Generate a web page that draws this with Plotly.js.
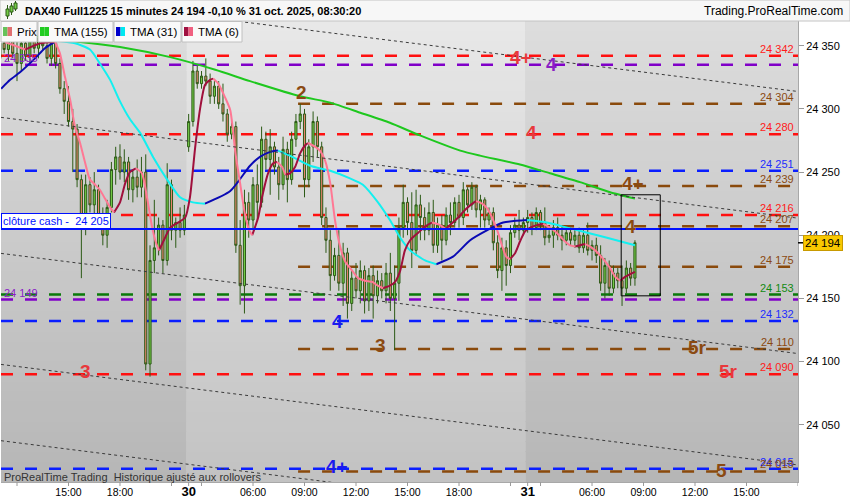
<!DOCTYPE html>
<html>
<head>
<meta charset="utf-8">
<script src="https://cdn.plot.ly/plotly-3.0.1.min.js"></script>
<style>
  html, body { margin: 0; padding: 0; background: #fff; }
  #chart { width: 850px; height: 500px; }
</style>
</head>
<body>
<div id="chart"></div>
<script>
// DAX40 Full1225, 15 min candles. Index 0 = 29 oct 12:00, sessions 02:15 - 22:00
const firstCandle = -4;
const candleOpen = [
  24340, 24352, 24347, 24356, 24344, 24336, 24352, 24342, 24354, 24348,
  24356, 24350, 24340, 24352, 24336, 24316, 24306, 24290, 24284, 24244,
  24206, 24240, 24224, 24236, 24214, 24200, 24222, 24252, 24262, 24250,
  24258, 24236, 24246, 24238, 24250, 24098, 24180, 24190, 24208, 24180,
  24240, 24204, 24210, 24204, 24270, 24290, 24330, 24320, 24326, 24322,
  24310, 24318, 24304, 24296, 24280, 24286, 24192, 24160, 24226, 24212,
  24240, 24226, 24276, 24260, 24270, 24254, 24240, 24268, 24244, 24276,
  24290, 24296, 24244, 24270, 24290, 24270, 24214, 24196, 24168, 24184,
  24162, 24186, 24146, 24166, 24156, 24172, 24148, 24168, 24152, 24164,
  24156, 24170, 24150, 24162, 24206, 24226, 24210, 24188, 24224, 24214,
  24204, 24218, 24192, 24208, 24196, 24216, 24210, 24226, 24214, 24236,
  24224, 24238, 24220, 24228, 24212, 24218, 24194, 24172, 24190, 24176,
  24202, 24208, 24204, 24210, 24214, 24206, 24218, 24210, 24198, 24200,
  24206, 24200, 24196, 24202, 24196, 24200, 24190, 24200, 24188, 24192,
  24184, 24162, 24176, 24158, 24170, 24164, 24158, 24174, 24166
];
const candleHigh = [
  24358, 24362, 24360, 24364, 24354, 24356, 24360, 24358, 24362, 24360,
  24364, 24358, 24356, 24356, 24340, 24322, 24318, 24300, 24288, 24248,
  24248, 24246, 24250, 24240, 24222, 24228, 24258, 24270, 24272, 24268,
  24262, 24252, 24260, 24262, 24264, 24192, 24228, 24214, 24212, 24257,
  24244, 24214, 24222, 24224, 24296, 24338, 24334, 24330, 24340, 24328,
  24322, 24322, 24320, 24300, 24292, 24290, 24212, 24236, 24234, 24246,
  24256, 24286, 24282, 24284, 24274, 24262, 24278, 24274, 24282, 24296,
  24304, 24300, 24276, 24298, 24294, 24274, 24222, 24204, 24190, 24204,
  24194, 24190, 24172, 24178, 24180, 24176, 24174, 24176, 24172, 24170,
  24178, 24186, 24176, 24214, 24240, 24230, 24234, 24236, 24232, 24222,
  24226, 24228, 24214, 24216, 24222, 24226, 24230, 24232, 24242, 24238,
  24242, 24240, 24232, 24230, 24222, 24222, 24200, 24198, 24196, 24208,
  24214, 24220, 24214, 24220, 24218, 24222, 24220, 24222, 24204, 24212,
  24214, 24208, 24206, 24206, 24204, 24206, 24204, 24210, 24196, 24198,
  24192, 24182, 24180, 24176, 24174, 24176, 24180, 24178, 24196
];
const candleLow = [
  24332, 24344, 24338, 24340, 24322, 24330, 24338, 24336, 24344, 24340,
  24346, 24336, 24334, 24332, 24312, 24296, 24286, 24250, 24238, 24166,
  24200, 24218, 24215, 24208, 24192, 24190, 24218, 24240, 24244, 24242,
  24228, 24226, 24230, 24230, 24093, 24088, 24170, 24184, 24170, 24176,
  24196, 24190, 24198, 24200, 24266, 24286, 24316, 24316, 24318, 24304,
  24304, 24300, 24290, 24274, 24276, 24186, 24145, 24138, 24198, 24204,
  24212, 24222, 24252, 24232, 24248, 24228, 24236, 24226, 24240, 24270,
  24284, 24230, 24238, 24258, 24262, 24208, 24186, 24156, 24164, 24156,
  24144, 24134, 24140, 24150, 24146, 24138, 24140, 24134, 24146, 24150,
  24146, 24140, 24109, 24148, 24198, 24200, 24174, 24184, 24196, 24196,
  24200, 24186, 24186, 24180, 24192, 24200, 24206, 24206, 24208, 24218,
  24220, 24214, 24206, 24206, 24208, 24188, 24166, 24156, 24160, 24170,
  24198, 24196, 24200, 24202, 24200, 24204, 24204, 24192, 24194, 24190,
  24196, 24188, 24192, 24192, 24190, 24186, 24186, 24184, 24180, 24178,
  24156, 24150, 24152, 24154, 24158, 24144, 24154, 24160, 24160
];
const candleClose = [
  24352, 24347, 24356, 24344, 24336, 24352, 24342, 24354, 24348, 24356,
  24350, 24340, 24352, 24336, 24316, 24306, 24290, 24284, 24244, 24206,
  24240, 24224, 24236, 24214, 24200, 24222, 24252, 24262, 24250, 24258,
  24236, 24246, 24238, 24250, 24098, 24180, 24190, 24208, 24180, 24240,
  24204, 24210, 24204, 24216, 24290, 24330, 24320, 24326, 24322, 24310,
  24318, 24304, 24296, 24280, 24286, 24192, 24160, 24226, 24212, 24240,
  24226, 24276, 24260, 24270, 24254, 24240, 24268, 24244, 24276, 24290,
  24296, 24244, 24270, 24290, 24270, 24214, 24196, 24168, 24184, 24162,
  24186, 24146, 24166, 24156, 24172, 24148, 24168, 24152, 24164, 24156,
  24170, 24150, 24162, 24206, 24226, 24210, 24188, 24224, 24214, 24204,
  24218, 24192, 24208, 24196, 24216, 24210, 24226, 24214, 24236, 24224,
  24238, 24220, 24228, 24212, 24218, 24194, 24172, 24190, 24176, 24202,
  24208, 24204, 24210, 24214, 24206, 24218, 24210, 24198, 24200, 24206,
  24200, 24196, 24202, 24196, 24200, 24190, 24200, 24188, 24192, 24184,
  24162, 24176, 24158, 24170, 24164, 24158, 24174, 24166, 24194
];

// moving averages (candle index, value)
const tma155Idx = [-3.7, 10.7, 14.7, 24.0, 35.7, 46.2, 54.3, 66.0, 73.0, 80.0, 86.9, 93.9, 103.3, 107.9, 117.2, 124.2, 131.2, 138.2, 144];
const tma155Val = [24362, 24354, 24353, 24349, 24341, 24331, 24322, 24310, 24305, 24297, 24289, 24279, 24267, 24263, 24256, 24249, 24242, 24234, 24229];

const tma31Idx = [-3.7, -1.6, 0.7, 4.2, 6.5, 9.3, 13.5, 17.0, 19.3, 21.7, 24.0, 26.3, 28.7, 31.7, 35.0,
  38.0, 41.0, 43.8, 49.7, 54.3, 56.6, 59.0, 60.8, 63.6, 68.3, 73.0, 77.6, 80.6, 83.9, 86.9,
  89.3, 91.6, 95.1, 97.7, 101.6, 105.6, 109.6, 113.3, 118.9, 123.5, 128.2, 132.9, 137.5, 144];
const tma31Val = [24316, 24323, 24329, 24340, 24348, 24354, 24352, 24347, 24336, 24323, 24306, 24292, 24281, 24262, 24244,
  24230, 24226, 24225, 24235, 24255, 24262, 24266, 24267, 24263, 24255, 24251, 24245, 24240, 24227, 24212,
  24198, 24188, 24180, 24177, 24183, 24196, 24204, 24210, 24212, 24210, 24206, 24202, 24198, 24192];

const tma6Idx = [-2.8, 1.9, 5.4, 8.9, 10.0, 11.2, 12.4, 13.5, 14.7, 15.9,
  17.0, 18.2, 19.3, 20.5, 21.7, 22.6, 24.0, 25.2, 26.3, 27.7,
  29.1, 30.3, 31.5, 32.4, 33.1, 34.5, 35.7, 37.5, 39.2, 40.3,
  41.5, 42.7, 43.8, 45.0, 45.7, 46.9, 48.5, 49.7, 50.9, 52.0,
  53.1, 54.1, 54.8, 56.2, 57.1, 58.5, 59.7, 60.6, 61.8, 62.5,
  63.6, 64.8, 66.0, 67.1, 67.8, 69.5, 70.6, 71.8, 73.0, 74.1,
  75.3, 76.5, 78.1, 79.5, 81.1, 82.8, 84.1, 85.3, 86.9, 88.1,
  89.3, 90.4, 91.6, 93.5, 95.1, 96.7, 98.6, 99.8, 100.9, 102.8,
  104.4, 106.1, 107.0, 108.4, 109.6, 110.7, 111.9, 113.1, 114.0, 114.9,
  116.1, 117.2, 118.4, 119.6, 121.2, 122.6, 124.2, 125.4, 126.6, 127.7,
  128.9, 130.1, 131.2, 132.4, 133.6, 134.7, 135.9, 137.1, 138.2, 139.4,
  140.6, 141.7, 144];
const tma6Val = [24353, 24347, 24352, 24353, 24344, 24325, 24307, 24286, 24273, 24257,
  24244, 24240, 24236, 24229, 24222, 24218, 24226, 24241, 24250, 24253,
  24249, 24230, 24206, 24194, 24188, 24198, 24206, 24210, 24214, 24230,
  24269, 24301, 24319, 24323, 24324, 24320, 24309, 24299, 24265, 24241,
  24217, 24204, 24200, 24214, 24230, 24249, 24257, 24258, 24254, 24248,
  24249, 24254, 24265, 24271, 24273, 24270, 24267, 24259, 24241, 24212,
  24191, 24179, 24172, 24166, 24164, 24163, 24160, 24158, 24160, 24163,
  24172, 24188, 24196, 24202, 24207, 24210, 24208, 24205, 24208, 24214,
  24220, 24225, 24227, 24225, 24221, 24214, 24204, 24191, 24183, 24181,
  24186, 24195, 24203, 24206, 24208, 24209, 24206, 24203, 24199, 24195,
  24192, 24191, 24192, 24193, 24191, 24188, 24184, 24179, 24174, 24167,
  24164, 24167, 24171];

// horizontal levels
const levelPrice = [24342, 24335, 24304, 24280, 24251, 24239, 24216, 24207, 24175, 24153, 24149, 24132, 24110, 24090, 24015, 24013];
const levelKind  = ['red', 'purple', 'brown', 'red', 'blue', 'brown', 'red', 'brown', 'brown', 'green', 'purple', 'blue', 'brown', 'red', 'blue', 'brown'];
const cashClose = 24205;
const lastPrice = 24194;

// channel lines: price at left edge and right edge of the axis
const chanLeft  = [24392.9, 24293.3, 24185.6, 24097.7, 24037.3];
const chanRight = [24313.8, 24213.5, 24106.3, 24018.1, 23957.8];

// wave count labels
const waveText  = ['4+', '4', '2', '4', '4+', '4', '4', '3', '3', '5r', '5r', '4+', '5'];
const waveIdx   = [117.5, 124.5, 66.4, 120.0, 143.6, 142.9, 74.8, 84.8, 15.9, 158.5, 165.7, 74.6, 164.1];
const wavePrice = [24341, 24335, 24313, 24281, 24241, 24207, 24132, 24113, 24092, 24111, 24092, 24017, 24014];
const waveKind  = ['red', 'purple', 'brown', 'red', 'brown', 'brown', 'blue', 'brown', 'red', 'brown', 'red', 'blue', 'brown'];

// x axis ticks (candle index) and labels
const tickIdx  = [0, 12, 24, 36, 40, 43, 55, 67, 79, 91, 103, 115, 119, 122, 134, 146, 158, 170, 182];
const tickText = ['', '15:00', '18:00', '', '30', '', '06:00', '09:00', '12:00', '15:00', '18:00', '', '31', '', '06:00', '09:00', '12:00', '15:00', ''];
const dayStart = [39.5, 118.5];

const xMin = -3.73, xMax = 182;
const yMin = 24004.6, yMax = 24369.6;
const brownStart = 65.5;

const FONT = 'Liberation Sans, Arial, sans-serif';
const lineCol  = { red: '#ff1010', purple: '#8000c8', brown: '#8a4a0c', blue: '#0a1eff', green: '#0a7a0a' };
const labelCol = { red: '#ff1a1a', purple: '#8a20c8', brown: '#8b4a12', blue: '#1d2cff', green: '#128a12' };
const waveCol  = { red: '#e8383c', purple: '#8a1fc4', brown: '#8b4a12', blue: '#1a1aee' };

// page pixel -> paper coords
const W = 797, H = 461, L = 1, T = 21;
const px = v => (v - L) / W;
const py = v => (T + H - v) / H;
const fmt = v => String(v).replace(/\B(?=(\d{3})+(?!\d))/g, ' ');

const candleIdx = candleClose.map((_, k) => k + firstCandle);

// split a line into rising / falling runs
function runs(idx, val) {
  const up = { x: [], y: [] }, dn = { x: [], y: [] };
  let prev = null;
  for (let k = 1; k < idx.length; k++) {
    const dir = val[k] >= val[k - 1] ? 'up' : 'dn';
    const t = dir === 'up' ? up : dn;
    if (dir !== prev) {
      if (t.x.length) { t.x.push(null); t.y.push(null); }
      t.x.push(idx[k - 1]); t.y.push(val[k - 1]);
    }
    t.x.push(idx[k]); t.y.push(val[k]);
    prev = dir;
  }
  return { up, dn };
}

function lineTrace(x, y, color) {
  return {
    type: 'scatter', mode: 'lines', x: x, y: y, connectgaps: false,
    line: { color: color, width: 2, shape: 'spline', smoothing: 0.6 },
    hoverinfo: 'skip', showlegend: false
  };
}

const traces = [];
traces.push({
  type: 'candlestick', x: candleIdx,
  open: candleOpen, high: candleHigh, low: candleLow, close: candleClose,
  increasing: { line: { color: '#2c5a16', width: 1 }, fillcolor: '#74cc48' },
  decreasing: { line: { color: '#2c5a16', width: 1 }, fillcolor: '#e8846e' },
  whiskerwidth: 0, hoverinfo: 'skip', showlegend: false
});
traces.push(lineTrace(tma155Idx, tma155Val, '#1ec81e'));
const r31 = runs(tma31Idx, tma31Val);
traces.push(lineTrace(r31.up.x, r31.up.y, '#0a0ab4'));
traces.push(lineTrace(r31.dn.x, r31.dn.y, '#12f0f0'));
const r6 = runs(tma6Idx, tma6Val);
traces.push(lineTrace(r6.up.x, r6.up.y, '#a0103c'));
traces.push(lineTrace(r6.dn.x, r6.dn.y, '#ff7894'));

const shapes = [];
const annotations = [];

// background: vertical gradient, alternate shade per day
function mix(a, b, t) {
  const c = a.map((v, i) => Math.round(v + (b[i] - v) * t));
  return 'rgb(' + c.join(',') + ')';
}
const shade = {
  light: [[232, 232, 232], [194, 194, 194]],
  dark: [[221, 221, 221], [182, 182, 182]]
};
const dayEdges = [xMin, dayStart[0], dayStart[1], xMax];
const dayShade = ['dark', 'light', 'dark'];
const N = 46;
for (let d = 0; d < 3; d++) {
  const s = shade[dayShade[d]];
  for (let b = 0; b < N; b++) {
    shapes.push({
      type: 'rect', layer: 'below', xref: 'x', yref: 'paper',
      x0: dayEdges[d], x1: dayEdges[d + 1], y0: b / N, y1: (b + 1) / N + 0.002,
      fillcolor: mix(s[1], s[0], (b + 0.5) / N), line: { width: 0 }
    });
  }
}

// level lines and their labels
levelPrice.forEach((p, k) => {
  const kind = levelKind[k];
  shapes.push({
    type: 'line', layer: 'below', xref: 'x', yref: 'y',
    x0: kind === 'brown' ? brownStart : xMin, x1: xMax, y0: p, y1: p,
    line: { color: lineCol[kind], width: 2.5, dash: '12px,12px' }
  });
  const left = kind === 'purple';
  annotations.push({
    xref: 'paper', yref: 'y', x: left ? px(3) : px(795), y: p,
    xanchor: left ? 'left' : 'right', yanchor: 'bottom',
    text: fmt(p), showarrow: false, borderpad: 0,
    font: { family: FONT, size: 11, color: labelCol[kind] }
  });
});

// channel lines
chanLeft.forEach((p, k) => {
  shapes.push({
    type: 'line', layer: 'above', xref: 'x', yref: 'y',
    x0: xMin, x1: xMax, y0: p, y1: chanRight[k],
    line: { color: '#3a3a3a', width: 1, dash: '3px,3px' }
  });
});

// cash close line
shapes.push({
  type: 'line', layer: 'above', xref: 'x', yref: 'y',
  x0: xMin, x1: xMax, y0: cashClose, y1: cashClose,
  line: { color: '#0010ff', width: 2 }
});
annotations.push({
  xref: 'paper', yref: 'y', x: 0, y: cashClose, xanchor: 'left', yanchor: 'bottom',
  text: 'clôture cash -\u00a0 ' + fmt(cashClose), showarrow: false,
  bgcolor: '#ffffff', bordercolor: '#0010ff', borderwidth: 1, borderpad: 1,
  font: { family: FONT, size: 11, color: '#0010ff' }
});

// box around the last candles
shapes.push({
  type: 'rect', layer: 'above', xref: 'x', yref: 'y',
  x0: 140.8, x1: 149.9, y0: 24152, y1: 24232,
  line: { color: '#000', width: 1 }, fillcolor: 'rgba(0,0,0,0)'
});

// wave labels
waveText.forEach((t, k) => {
  annotations.push({
    xref: 'x', yref: 'y', x: waveIdx[k], y: wavePrice[k], text: '<b>' + t + '</b>',
    showarrow: false, xanchor: 'center', yanchor: 'middle',
    font: { family: FONT, size: 19, color: waveCol[waveKind[k]] }
  });
});

// x tick marks (drawn by hand so the labels sit close to the axis)
tickIdx.forEach(t => {
  shapes.push({
    type: 'line', xref: 'x', yref: 'paper', x0: t, x1: t, y0: 0, y1: -4 / H,
    line: { color: '#9a9a9a', width: 1 }
  });
});

// last price tag
shapes.push({
  type: 'line', xref: 'paper', yref: 'y', x0: 1, x1: 1 + 5 / W, y0: lastPrice, y1: lastPrice,
  line: { color: '#000', width: 1.5 }
});
annotations.push({
  xref: 'paper', yref: 'y', x: 1, xshift: 5, y: lastPrice, xanchor: 'left', yanchor: 'middle',
  text: fmt(lastPrice), showarrow: false, bgcolor: '#f8c800', bordercolor: '#c89a00', borderwidth: 1, borderpad: 1,
  font: { family: FONT, size: 11.5, color: '#000' }
});

// title bar
shapes.push({
  type: 'rect', xref: 'paper', yref: 'paper', x0: px(0), x1: px(850), y0: py(21), y1: py(0),
  fillcolor: '#f7f7f7', line: { color: '#c4c4c4', width: 1 }
});
// small candle icon
[[6, 9, 16, 5, 19], [10, 6, 12, 3, 15], [14, 3, 9, 1, 11]].forEach(c => {
  shapes.push({ type: 'line', xref: 'paper', yref: 'paper', x0: px(c[0] + 1.5), x1: px(c[0] + 1.5), y0: py(c[4]), y1: py(c[3]), line: { color: '#2c5a16', width: 1 } });
  shapes.push({ type: 'rect', xref: 'paper', yref: 'paper', x0: px(c[0]), x1: px(c[0] + 3), y0: py(c[2]), y1: py(c[1]), fillcolor: '#74cc48', line: { color: '#2c5a16', width: 1 } });
});
annotations.push({
  xref: 'paper', yref: 'paper', x: px(23), y: py(11.5), xanchor: 'left', yanchor: 'middle',
  text: '<b>DAX40 Full1225 15 minutes 24 194 -0,10 % 31 oct. 2025, 08:30:20</b>', showarrow: false,
  font: { family: FONT, size: 11, color: '#000' }
});
annotations.push({
  xref: 'paper', yref: 'paper', x: px(845), y: py(11.5), xanchor: 'right', yanchor: 'middle',
  text: 'Trading.ProRealTime.com', showarrow: false,
  font: { family: FONT, size: 12, color: '#000' }
});

// legend boxes
const legendBox = [[0, 37], [37, 113], [113, 181], [181, 242]];
const legendText = ['Prix', 'TMA (155)', 'TMA (31)', 'TMA (6)'];
const legendIcon = [['#66c25a', '#e07070'], ['#22cc22', '#22cc22'], ['#0000cc', '#00e8f0'], ['#a01040', '#f06080']];
legendBox.forEach((b, k) => {
  shapes.push({
    type: 'rect', layer: 'above', xref: 'paper', yref: 'paper',
    x0: px(b[0] + 1), x1: px(b[1]), y0: py(42), y1: py(21.5),
    fillcolor: '#f9f9f9', line: { color: '#c0c0c0', width: 1 }
  });
  shapes.push({ type: 'rect', layer: 'above', xref: 'paper', yref: 'paper', x0: px(b[0] + 3), x1: px(b[0] + 7.5), y0: py(36), y1: py(27), fillcolor: legendIcon[k][0], line: { width: 0 } });
  shapes.push({ type: 'rect', layer: 'above', xref: 'paper', yref: 'paper', x0: px(b[0] + 7.5), x1: px(b[0] + 12), y0: py(36), y1: py(27), fillcolor: legendIcon[k][1], line: { width: 0 } });
  annotations.push({
    xref: 'paper', yref: 'paper', x: px(b[0] + 15), y: py(31.5), xanchor: 'left', yanchor: 'middle',
    text: legendText[k], showarrow: false, font: { family: FONT, size: 11.5, color: '#000' }
  });
});

// footer note
annotations.push({
  xref: 'paper', yref: 'paper', x: px(2), y: py(476.5), xanchor: 'left', yanchor: 'middle',
  text: 'ProRealTime Trading\u00a0 Historique ajusté aux rollovers', showarrow: false,
  font: { family: FONT, size: 11, color: '#333' }
});

const layout = {
  width: 850, height: 500,
  margin: { l: L, r: 850 - L - W, t: T, b: 500 - T - H, pad: 0 },
  paper_bgcolor: '#ffffff', plot_bgcolor: '#d0d0d0',
  separators: ', ',
  showlegend: false,
  font: { family: FONT, size: 11, color: '#000' },
  xaxis: {
    range: [xMin, xMax], fixedrange: true, showgrid: false, zeroline: false,
    rangeslider: { visible: false },
    tickmode: 'array', tickvals: tickIdx,
    ticktext: tickText.map(t => t.length === 2 ? '<b><span style="font-size:13px">' + t + '</span></b>' : t),
    ticks: '', ticklen: 0,
    showline: true, linecolor: '#a8a8a8', linewidth: 1,
    tickfont: { family: FONT, size: 10.5, color: '#000' }
  },
  yaxis: {
    range: [yMin, yMax], fixedrange: true, side: 'right', showgrid: false, zeroline: false,
    tickmode: 'array', tickvals: [24050, 24100, 24150, 24200, 24250, 24300, 24350],
    tickformat: ',d', ticks: 'outside', ticklen: 5, tickcolor: '#9a9a9a',
    showline: true, linecolor: '#a8a8a8', linewidth: 1,
    tickfont: { family: FONT, size: 11, color: '#000' }
  },
  boxgap: 0.3,
  shapes: shapes,
  annotations: annotations
};

Plotly.newPlot('chart', traces, layout, { staticPlot: true, displayModeBar: false });
</script>
</body>
</html>
